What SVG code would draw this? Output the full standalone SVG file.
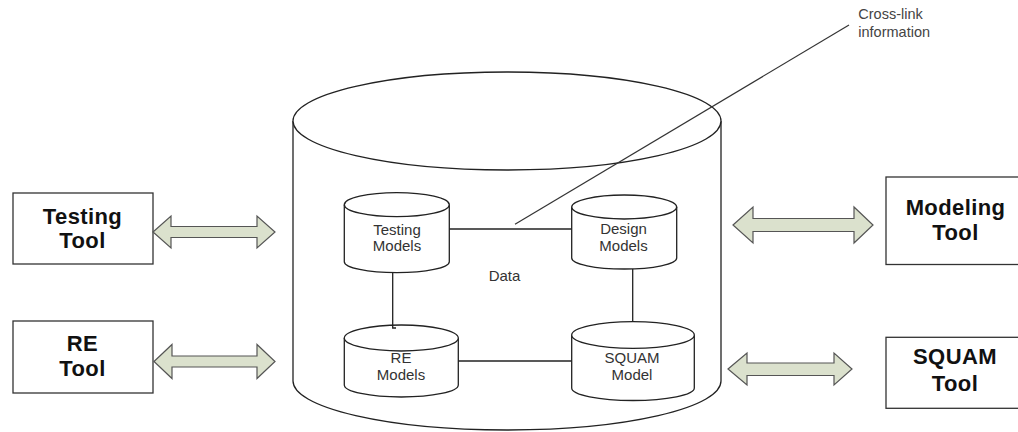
<svg xmlns="http://www.w3.org/2000/svg" width="1018" height="432" viewBox="0 0 1018 432">
<style>
.box{fill:#fff;stroke:#333;stroke-width:1.3}
.cyl{fill:#fff;stroke:#222;stroke-width:1.3}
.ln{fill:none;stroke:#222;stroke-width:1.3}
.arr{fill:#dbe1cd;stroke:#555;stroke-width:1.2;stroke-linejoin:miter}
.tool{font-family:"Liberation Sans",Arial,sans-serif;font-weight:bold;font-size:22px;fill:#111;text-anchor:middle;letter-spacing:0.4px}
.lbl{font-family:"Liberation Sans",Arial,sans-serif;font-size:15px;fill:#333;text-anchor:middle}
.note{font-family:"Liberation Sans",Arial,sans-serif;font-size:14.5px;fill:#444}
</style>
<rect width="1018" height="432" fill="#fff"/>
<g id="repository">
<path class="cyl" d="M293,121 V381 A214,49 0 0 0 721,381 V121"/>
<ellipse class="cyl" cx="507" cy="121" rx="214" ry="49"/>
</g>
<g id="testing-models">
<path class="cyl" d="M344.3,204.7 V261.7 A52.5,11 0 0 0 449.3,261.7 V204.7"/>
<ellipse class="cyl" cx="396.8" cy="204.7" rx="52.5" ry="12"/>
<text class="lbl" x="397" y="235">Testing</text>
<text class="lbl" x="397" y="251">Models</text>
</g>
<g id="design-models">
<path class="cyl" d="M571.7,207 V258 A52.5,11 0 0 0 676.7,258 V207"/>
<ellipse class="cyl" cx="624.2" cy="207" rx="52.5" ry="12"/>
<text class="lbl" x="623.5" y="234">Design</text>
<text class="lbl" x="623.5" y="250.7">Models</text>
</g>
<g id="re-models">
<path class="cyl" d="M344.3,338 V385 A57,12 0 0 0 458.3,385 V338"/>
<ellipse class="cyl" cx="401.3" cy="338" rx="57" ry="13"/>
<text class="lbl" x="401" y="363.3">RE</text>
<text class="lbl" x="401" y="380">Models</text>
</g>
<g id="squam-model">
<path class="cyl" d="M571.7,335 V388 A61.3,12.5 0 0 0 694.3,388 V335"/>
<ellipse class="cyl" cx="633" cy="335" rx="61.3" ry="13.3"/>
<text class="lbl" x="632" y="363.3">SQUAM</text>
<text class="lbl" x="632" y="380">Model</text>
</g>
<g id="data-label">
<text class="lbl" x="504.5" y="280.7">Data</text>
</g>
<g id="testing-tool">
<rect class="box" x="13" y="193" width="140" height="71"/>
<text class="tool" x="82.5" y="224">Testing</text>
<text class="tool" x="82.5" y="248">Tool</text>
</g>
<g id="re-tool">
<rect class="box" x="13" y="321" width="140" height="72"/>
<text class="tool" x="82.5" y="351">RE</text>
<text class="tool" x="82.5" y="376">Tool</text>
</g>
<g id="modeling-tool">
<rect class="box" x="886" y="177" width="140" height="87.5"/>
<text class="tool" x="955.5" y="215">Modeling</text>
<text class="tool" x="955.5" y="239.5">Tool</text>
</g>
<g id="squam-tool">
<rect class="box" x="886" y="337.3" width="140" height="71"/>
<text class="tool" x="955" y="364">SQUAM</text>
<text class="tool" x="955" y="390.7">Tool</text>
</g>
<g id="cross-link-note">
<text class="note" x="858.3" y="19.3">Cross-link</text>
<text class="note" x="858.3" y="36.7">information</text>
</g>
<g id="connectors">
<path class="ln" d="M449.3,229 H571.7"/>
<path class="ln" d="M392.7,272.7 V328 H396"/>
<path class="ln" d="M458.3,361 H571.7"/>
<path class="ln" d="M632.7,269 V321.7"/>
<path fill="none" stroke="#333" stroke-width="1.2" d="M849,25 L515,224.3"/>
<path class="arr" d="M153,232 L171,216 L171,226.5 L257,226.5 L257,216 L275,232 L257,248 L257,237.5 L171,237.5 L171,248 Z"/>
<path class="arr" d="M154,361.5 L172,344.5 L172,356 L257,356 L257,344.5 L275,361.5 L257,378.5 L257,367 L172,367 L172,378.5 Z"/>
<path class="arr" d="M733,225 L753,207 L753,218.5 L854,218.5 L854,207 L873,225 L854,243 L854,231.5 L753,231.5 L753,243 Z"/>
<path class="arr" d="M728,369 L747,353 L747,363 L834,363 L834,353 L852,369 L834,385 L834,375.5 L747,375.5 L747,385 Z"/>
</g>
</svg>
